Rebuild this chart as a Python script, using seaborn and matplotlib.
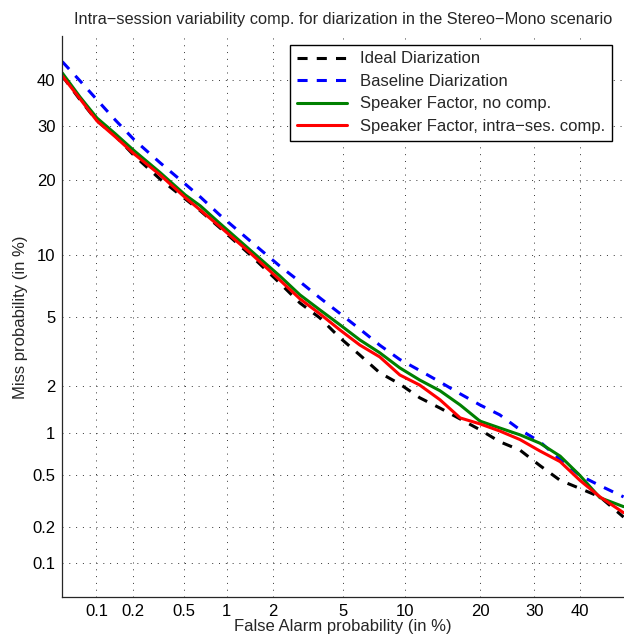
import math
import numpy as np
import pandas as pd
import matplotlib
matplotlib.use("Agg")
import matplotlib.pyplot as plt
import seaborn as sns

# ---------- data (in %) ----------
systems = ["Ideal Diarization", "Baseline Diarization",
           "Speaker Factor, no comp.", "Speaker Factor, intra\u2212ses. comp."]

fa_pct = [0.05, 0.072, 0.101, 0.144, 0.206, 0.33, 0.51, 0.655, 0.90, 1.43,
          2.19, 2.89, 3.75, 4.82, 6.10, 7.65, 9.48, 11.6, 14.1, 16.9,
          20.0, 23.4, 27.2, 31.2, 35.5, 39.9, 44.5, 50.0]

miss_ideal = [40.8, 35.5, 31.0, 28.0, 24.2, 20.1, 17.0, 15.3, 13.05, 10.0,
              7.4, 5.89, 4.93, 3.85, 3.08, 2.42, 2.07, 1.70, 1.46, 1.24,
              1.05, 0.87, 0.76, 0.59, 0.46, 0.40, 0.345, 0.24]
miss_baseline = [44.1, 39.7, 35.5, 31.2, 27.2, 22.9, 19.3, 17.3, 14.7, 11.5,
                 8.9, 7.5, 6.25, 5.2, 4.3, 3.5, 2.9, 2.5, 2.13, 1.80,
                 1.53, 1.32, 1.05, 0.87, 0.65, 0.50, 0.42, 0.345]
miss_spk = [41.5, 36.1, 31.6, 28.4, 25.1, 21.2, 17.6, 16.0, 13.6, 10.5,
            8.0, 6.47, 5.43, 4.53, 3.75, 3.17, 2.59, 2.19, 1.88, 1.53,
            1.20, 1.08, 0.97, 0.85, 0.69, 0.50, 0.34, 0.29]
miss_spk_comp = [40.8, 35.7, 31.0, 27.8, 24.5, 20.8, 17.2, 15.4, 13.2, 10.2,
                 7.65, 6.18, 5.18, 4.25, 3.51, 3.00, 2.35, 2.04, 1.65, 1.26,
                 1.15, 1.03, 0.90, 0.75, 0.63, 0.46, 0.345, 0.26]

tick_vals = [0.1, 0.2, 0.5, 1, 2, 5, 10, 20, 30, 40]
tick_labels = ["0.1", "0.2", "0.5", "1", "2", "5", "10", "20", "30", "40"]

df = pd.concat([pd.DataFrame({"fa": fa_pct, "miss": m, "system": s})
                for s, m in zip(systems, [miss_ideal, miss_baseline, miss_spk, miss_spk_comp])],
               ignore_index=True)

# ---------- probit (normal deviate) scale ----------
A = [-3.969683028665376e+01, 2.209460984245205e+02, -2.759285104469687e+02,
     1.383577518672690e+02, -3.066479806614716e+01, 2.506628277459239e+00]
B = [-5.447609879822406e+01, 1.615858368580409e+02, -1.556989798598866e+02,
     6.680131188771972e+01, -1.328068155288572e+01]
C = [-7.784894002430293e-03, -3.223964580411365e-01, -2.400758277161838e+00,
     -2.549732539343734e+00, 4.374664141464968e+00, 2.938163982698783e+00]
D = [7.784695709041462e-03, 3.224671290700398e-01, 2.445134137142996e+00,
     3.754408661907416e+00]


def _ppf(p):
    p = np.clip(np.asarray(p, float), 1e-12, 1 - 1e-12)
    q = p - 0.5
    r = q * q
    mid = (((((A[0]*r + A[1])*r + A[2])*r + A[3])*r + A[4])*r + A[5]) * q / \
          (((((B[0]*r + B[1])*r + B[2])*r + B[3])*r + B[4])*r + 1)
    t = np.sqrt(-2 * np.log(np.minimum(p, 1 - p)))
    tail = (((((C[0]*t + C[1])*t + C[2])*t + C[3])*t + C[4])*t + C[5]) / \
           ((((D[0]*t + D[1])*t + D[2])*t + D[3])*t + 1)
    tail = np.where(p < 0.5, tail, -tail)
    return np.where(np.abs(q) <= 0.5 - 0.02425, mid, tail)


_erf = np.vectorize(math.erf)


def fwd(pct):
    return _ppf(np.asarray(pct, float) / 100.0)


def inv(z):
    return 50.0 * (1 + _erf(np.asarray(z, float) / math.sqrt(2)))


# ---------- plot ----------
sns.set_theme(style="white")
plt.rcParams["font.family"] = ["Liberation Sans", "DejaVu Sans"]
plt.rcParams["axes.unicode_minus"] = True

fig = plt.figure(figsize=(6.24, 6.39), dpi=100)
ax = fig.add_axes([0.0998, 0.0653, 0.8995, 0.8778])

palette = {systems[0]: "#000000", systems[1]: "#0000ff",
           systems[2]: "#008000", systems[3]: "#ff0000"}
dashes = {systems[0]: (3.3, 3.0), systems[1]: (3.3, 3.0),
          systems[2]: "", systems[3]: ""}
sns.lineplot(data=df, x="fa", y="miss", hue="system", style="system",
             hue_order=systems, style_order=systems, palette=palette,
             dashes=dashes, sort=False, estimator=None, lw=2.2,
             legend=False, ax=ax)

ax.set_xscale("function", functions=(fwd, inv))
ax.set_yscale("function", functions=(fwd, inv))
ax.set_xlim(0.05, 50)
ax.set_ylim(0.05, 50)
ax.set_xticks(tick_vals, tick_labels)
ax.set_yticks(tick_vals, tick_labels)
ax.xaxis.set_minor_locator(matplotlib.ticker.NullLocator())
ax.yaxis.set_minor_locator(matplotlib.ticker.NullLocator())

ax.grid(True, which="major", linestyle=(0, (1, 6)), lw=0.7, color="0.2")
ax.set_axisbelow(True)
for side in ["top", "right"]:
    ax.spines[side].set_visible(False)
for side in ["left", "bottom"]:
    ax.spines[side].set_color("0.15")
    ax.spines[side].set_linewidth(0.9)
ax.tick_params(direction="in", length=4, width=0.8, color="0.15",
               labelsize=12, pad=5, labelcolor="black")

ax.set_xlabel("False Alarm probability (in %)", fontsize=12, labelpad=0)
ax.set_ylabel("Miss probability (in %)", fontsize=12, labelpad=3)
ax.set_title("Intra\u2212session variability comp. for diarization in the Stereo\u2212Mono scenario",
             fontsize=11.8, pad=9)

leg = ax.legend(ax.get_lines()[:4], systems, loc="upper right",
                bbox_to_anchor=(0.979, 0.985), fontsize=12, frameon=True,
                fancybox=False, framealpha=1, edgecolor="black",
                handlelength=3.0, handletextpad=0.8, borderpad=0.4,
                labelspacing=0.45, borderaxespad=0)
leg.get_frame().set_linewidth(1.0)

fig.savefig("out.png", dpi=100, facecolor="white")
